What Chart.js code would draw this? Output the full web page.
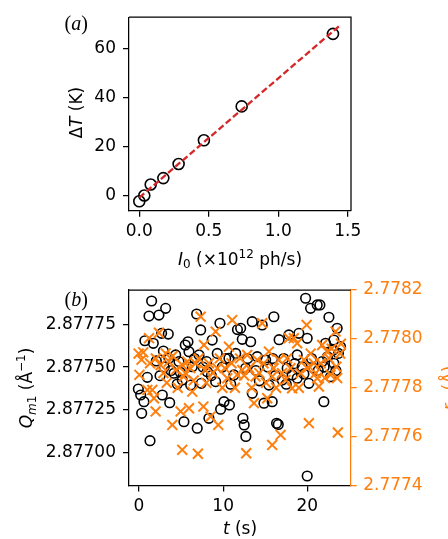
<!DOCTYPE html>
<html>
<head>
<meta charset="utf-8">
<script src="https://cdn.jsdelivr.net/npm/chart.js@4.4.1/dist/chart.umd.min.js"></script>
<style>
  html, body { margin: 0; padding: 0; background: #fff; }
  #wrap { position: relative; width: 448px; height: 539px; overflow: hidden; }
  canvas { position: absolute; left: 0; }
  #powerCanvas { top: 0; }
  #timeCanvas { top: 270px; }
</style>
</head>
<body>
<div id="wrap">
  <canvas id="powerCanvas" width="448" height="270"></canvas>
  <canvas id="timeCanvas" width="448" height="269"></canvas>
</div>
<script>
// (a) temperature rise vs incident flux
const fluxI0 = [0.0, 0.036, 0.082, 0.173, 0.283, 0.465, 0.737, 1.394];
const deltaT = [-2.5, -0.1, 4.4, 7.0, 12.8, 22.5, 36.4, 66.1];
const fitI0 = [0.0, 1.44];
const fitDeltaT = [-1.0, 69.4];
const fluxTicks = [0, 0.5, 1.0, 1.5];
const deltaTTicks = [0, 20, 40, 60];

// (b) Q_m1 and r_1 against time
const timeQ = [
  -0.08, 0.20, 0.32, 0.59, 0.70, 0.99, 1.19, 1.31, 1.50, 1.70,
  2.06, 2.37, 2.50, 2.69, 2.77, 2.90, 3.00, 3.17, 3.48, 3.56,
  3.65, 3.80, 4.16, 4.36, 4.55, 4.75, 4.90, 5.14, 5.34, 5.50,
  5.82, 5.94, 6.14, 6.33, 6.60, 6.85, 6.92, 7.13, 7.33, 7.40,
  7.60, 8.04, 8.11, 8.31, 8.60, 8.70, 9.11, 9.30, 9.62, 9.70,
  9.90, 10.10, 10.30, 10.69, 10.75, 10.90, 11.28, 11.50, 11.70, 12.08,
  12.27, 12.35, 12.50, 12.67, 12.70, 12.90, 13.27, 13.46, 13.46, 13.90,
  14.05, 14.30, 14.64, 14.85, 15.05, 15.30, 15.44, 15.83, 15.90, 16.03,
  16.20, 16.35, 16.55, 16.65, 17.02, 17.20, 17.50, 17.61, 17.81, 18.20,
  18.50, 18.80, 18.80, 19.00, 19.39, 19.60, 19.80, 19.99, 19.99, 20.19,
  20.39, 20.50, 20.78, 21.18, 21.30, 21.50, 21.77, 21.97, 22.00, 22.17,
  22.40, 22.57, 22.77, 23.08, 23.16, 23.16, 23.40, 23.55, 23.70, 23.95
];
const qm1 = [
  2.877372, 2.877337, 2.877230, 2.877298, 2.877654, 2.877440, 2.877798, 2.877070, 2.877886, 2.877639,
  2.877536, 2.877804, 2.877450, 2.877697, 2.877337, 2.877594, 2.877500, 2.877843, 2.877693, 2.877551,
  2.877292, 2.877480, 2.877464, 2.877571, 2.877401, 2.877532, 2.877470, 2.877425, 2.877181, 2.877629,
  2.877648, 2.877590, 2.877395, 2.877502, 2.877550, 2.877810, 2.877143, 2.877571, 2.877717, 2.877405,
  2.877500, 2.877532, 2.877473, 2.877201, 2.877450, 2.877658, 2.877415, 2.877580, 2.877756, 2.877254,
  2.877500, 2.877298, 2.877550, 2.877551, 2.877279, 2.877400, 2.877454, 2.877580, 2.877719, 2.877727,
  2.877662, 2.877201, 2.877162, 2.877493, 2.877095, 2.877550, 2.877648, 2.877765, 2.877347, 2.877480,
  2.877561, 2.877420, 2.877746, 2.877289, 2.877541, 2.877500, 2.877395, 2.877298, 2.877550, 2.877794,
  2.877450, 2.877172, 2.877165, 2.877660, 2.877425, 2.877550, 2.877400, 2.877493, 2.877688, 2.877454,
  2.877520, 2.877571, 2.877435, 2.877697, 2.877502, 2.877460, 2.877902, 2.877668, 2.876864, 2.877405,
  2.877843, 2.877550, 2.877493, 2.877863, 2.877480, 2.877863, 2.877532, 2.877298, 2.877500, 2.877639,
  2.877560, 2.877791, 2.877444, 2.877600, 2.877658, 2.877522, 2.877480, 2.877727, 2.877580, 2.877619
];
const timeR = [
  -0.05, 0.05, 0.30, 0.50, 0.99, 1.19, 1.31, 1.58, 1.78, 1.98,
  2.00, 2.37, 2.57, 2.90, 3.17, 3.30, 3.56, 3.96, 4.00, 4.36,
  4.60, 4.95, 5.14, 5.14, 5.30, 5.50, 5.74, 5.94, 6.10, 6.33,
  6.50, 6.73, 7.00, 7.10, 7.33, 7.65, 7.72, 7.85, 8.00, 8.30,
  8.51, 8.80, 9.11, 9.30, 9.42, 9.60, 9.90, 10.20, 10.49, 10.69,
  11.00, 11.08, 11.40, 11.67, 12.00, 12.27, 12.50, 12.74, 12.86, 13.10,
  13.40, 13.66, 13.86, 14.05, 14.30, 14.64, 14.80, 15.10, 15.24, 15.44,
  15.83, 15.83, 16.00, 16.30, 16.63, 16.83, 17.00, 17.42, 17.60, 17.81,
  18.00, 18.20, 18.40, 18.80, 19.00, 19.20, 19.60, 19.92, 20.00, 20.19,
  20.40, 20.78, 21.00, 21.18, 21.38, 21.60, 21.77, 22.10, 22.36, 22.57,
  22.77, 22.90, 23.36, 23.45, 23.55, 23.63, 23.90, 24.00
];
const r1 = [
  2.777940, 2.777853, 2.777915, 2.777945, 2.777791, 2.778003, 2.777900, 2.777791, 2.777757, 2.777703,
  2.777920, 2.778025, 2.777893, 2.777860, 2.777941, 2.777820, 2.777907, 2.777648, 2.777930, 2.777873,
  2.777800, 2.777703, 2.777893, 2.777546, 2.777846, 2.777860, 2.777907, 2.777716, 2.777880, 2.777784,
  2.777830, 2.777900, 2.777530, 2.777920, 2.778091, 2.777723, 2.777975, 2.777873, 2.777820, 2.777900,
  2.777682, 2.777860, 2.778030, 2.777880, 2.777648, 2.777920, 2.777800, 2.777880, 2.777839, 2.777968,
  2.777900, 2.778077, 2.777800, 2.777853, 2.777920, 2.777873, 2.777850, 2.777532, 2.777934, 2.777880,
  2.777800, 2.777737, 2.777846, 2.777914, 2.777860, 2.778064, 2.777900, 2.777820, 2.777757, 2.777948,
  2.777846, 2.777566, 2.777880, 2.777800, 2.777914, 2.777607, 2.777860, 2.777832, 2.777920, 2.778003,
  2.777880, 2.777798, 2.778003, 2.777982, 2.777800, 2.777859, 2.777914, 2.778057, 2.777880, 2.777655,
  2.777940, 2.777900, 2.777860, 2.777839, 2.777805, 2.777900, 2.777975, 2.777840, 2.777948, 2.777921,
  2.777853, 2.777960, 2.778030, 2.777886, 2.777840, 2.777617, 2.777940, 2.777980
];
const timeTicks = [0, 10, 20];
const qTicks = [2.87700, 2.87725, 2.87750, 2.87775];
const rTicks = [2.7774, 2.7776, 2.7778, 2.7780, 2.7782];

const ORANGE = '#ff7f0e';
const SANS = '"DejaVu Sans"';
const fMain = `17px ${SANS}`;
const fIt = `italic 17px ${SANS}`;
const fSub = `12px ${SANS}`;
const fSubIt = `italic 12px ${SANS}`;
const fSerif = '20px "Liberation Serif"';
const fSerifIt = 'italic 20px "Liberation Serif"';

// text made of pieces with their own font and vertical shift
function drawRich(ctx, lab) {
    ctx.save();
    ctx.translate(lab.x, lab.y);
    if (lab.rotate) ctx.rotate(-Math.PI / 2);
    ctx.fillStyle = lab.color || '#000';
    ctx.textBaseline = 'alphabetic';
    ctx.textAlign = 'left';
    let total = 0;
    lab.parts.forEach(p => { ctx.font = p.font; total += ctx.measureText(p.text).width; });
    let cx = lab.align === 'left' ? 0 : -total / 2;
    lab.parts.forEach(p => {
        ctx.font = p.font;
        ctx.fillText(p.text, cx, p.dy || 0);
        cx += ctx.measureText(p.text).width;
    });
    ctx.restore();
}

const frameAndLabels = {
    id: 'frameAndLabels',
    afterDraw(chart, args, opts) {
        const { ctx, chartArea: a } = chart;
        ctx.save();
        ctx.strokeStyle = '#000';
        ctx.lineWidth = 1.25;
        ctx.beginPath();
        ctx.moveTo(a.left, a.top);
        ctx.lineTo(a.right, a.top);
        if (opts.closeRight) ctx.lineTo(a.right, a.bottom);
        ctx.stroke();
        ctx.restore();
        (opts.labels || []).forEach(l => drawRich(ctx, l));
    }
};

// outward tick marks only, no grid inside the plot
function axis(extra, ticks, color) {
    color = color || '#000';
    return Object.assign({
        border: { display: true, color: color, width: 1.25 },
        grid: { display: true, drawOnChartArea: false, drawTicks: true, tickLength: 6, color: color, lineWidth: 1.25 },
        ticks: Object.assign({ color: color, font: { family: 'DejaVu Sans', size: 17 }, maxRotation: 0, autoSkip: false }, ticks)
    }, extra);
}

function fixTicks(values) {
    return s => { s.ticks = values.map(v => ({ value: v })); };
}

new Chart(document.getElementById('powerCanvas').getContext('2d'), {
    type: 'scatter',
    data: {
        datasets: [
            {
                data: fitI0.map((x, i) => ({ x: x, y: fitDeltaT[i] })),
                showLine: true,
                borderColor: '#d62728',
                borderWidth: 2.3,
                borderDash: [6.5, 3],
                pointRadius: 0,
                order: 1
            },
            {
                data: fluxI0.map((x, i) => ({ x: x, y: deltaT[i] })),
                pointStyle: 'circle',
                pointRadius: 5.5,
                borderColor: '#000',
                backgroundColor: 'rgba(0,0,0,0)',
                borderWidth: 1.6,
                order: 2
            }
        ]
    },
    options: {
        responsive: false,
        animation: false,
        events: [],
        layout: { padding: { top: 15, right: 97, left: 0, bottom: 0 } },
        plugins: {
            legend: { display: false },
            tooltip: { enabled: false },
            frameAndLabels: {
                closeRight: true,
                labels: [
                    { x: 82, y: 112.7, rotate: true, parts: [
                        { text: 'Δ', font: fMain }, { text: 'T', font: fIt }, { text: ' (K)', font: fMain }] },
                    { x: 240, y: 264.5, parts: [
                        { text: 'I', font: fIt }, { text: '0', font: fSub, dy: 3.5 },
                        { text: ' (×10', font: fMain }, { text: '12', font: fSub, dy: -7 },
                        { text: ' ph/s)', font: fMain }] },
                    { x: 64.5, y: 30.3, align: 'left', parts: [
                        { text: '(', font: fSerif }, { text: 'a', font: fSerifIt }, { text: ')', font: fSerif }] }
                ]
            }
        },
        scales: {
            x: axis({
                min: -0.0741, max: 1.5238,
                afterBuildTicks: fixTicks(fluxTicks),
                afterFit: s => { s.height = 59.3; }
            }, { padding: 5, callback: v => v.toFixed(1) }),
            y: axis({
                min: -6.35, max: 72.95,
                afterBuildTicks: fixTicks(deltaTTicks),
                afterFit: s => { s.width = 129; }
            }, { padding: 7 })
        }
    },
    plugins: [frameAndLabels]
});

new Chart(document.getElementById('timeCanvas').getContext('2d'), {
    type: 'scatter',
    data: {
        datasets: [
            {
                data: timeR.map((x, i) => ({ x: x, y: r1[i] })),
                yAxisID: 'y2',
                pointStyle: 'crossRot',
                pointRadius: 7,
                borderColor: ORANGE,
                borderWidth: 2,
                order: 1
            },
            {
                data: timeQ.map((x, i) => ({ x: x, y: qm1[i] })),
                yAxisID: 'y',
                pointStyle: 'circle',
                pointRadius: 4.8,
                borderColor: '#000',
                backgroundColor: 'rgba(0,0,0,0)',
                borderWidth: 1.6,
                order: 2
            }
        ]
    },
    options: {
        responsive: false,
        animation: false,
        events: [],
        layout: { padding: { top: 20, right: 0, left: 0, bottom: 0 } },
        plugins: {
            legend: { display: false },
            tooltip: { enabled: false },
            frameAndLabels: {
                closeRight: false,
                labels: [
                    { x: 32, y: 118, rotate: true, parts: [
                        { text: 'Q', font: fIt }, { text: 'm', font: fSubIt, dy: 3.5 }, { text: '1', font: fSub, dy: 3.5 },
                        { text: ' (Å', font: fMain }, { text: '−1', font: fSub, dy: -7 }, { text: ')', font: fMain }] },
                    { x: 454.5, y: 118, rotate: true, color: ORANGE, parts: [
                        { text: 'r', font: fIt }, { text: '1', font: fSub, dy: 3.5 }, { text: ' (Å)', font: fMain }] },
                    { x: 240, y: 264, parts: [
                        { text: 't', font: fIt }, { text: ' (s)', font: fMain }] },
                    { x: 64.5, y: 36.3, align: 'left', parts: [
                        { text: '(', font: fSerif }, { text: 'b', font: fSerifIt }, { text: ')', font: fSerif }] }
                ]
            }
        },
        scales: {
            x: axis({
                min: -1.188, max: 25.16,
                afterBuildTicks: fixTicks(timeTicks),
                afterFit: s => { s.height = 53.5; }
            }, { padding: 5, callback: v => v.toFixed(0) }),
            y: axis({
                position: 'left',
                min: 2.8768084, max: 2.8779503,
                afterBuildTicks: fixTicks(qTicks),
                afterFit: s => { s.width = 129; }
            }, { padding: 7, callback: v => v.toFixed(5) }),
            y2: axis({
                position: 'right',
                min: 2.7774, max: 2.7782,
                afterBuildTicks: fixTicks(rTicks),
                afterFit: s => { s.width = 97.3; }
            }, { padding: 6.5, callback: v => v.toFixed(4) }, ORANGE)
        }
    },
    plugins: [frameAndLabels]
});
</script>
</body>
</html>
